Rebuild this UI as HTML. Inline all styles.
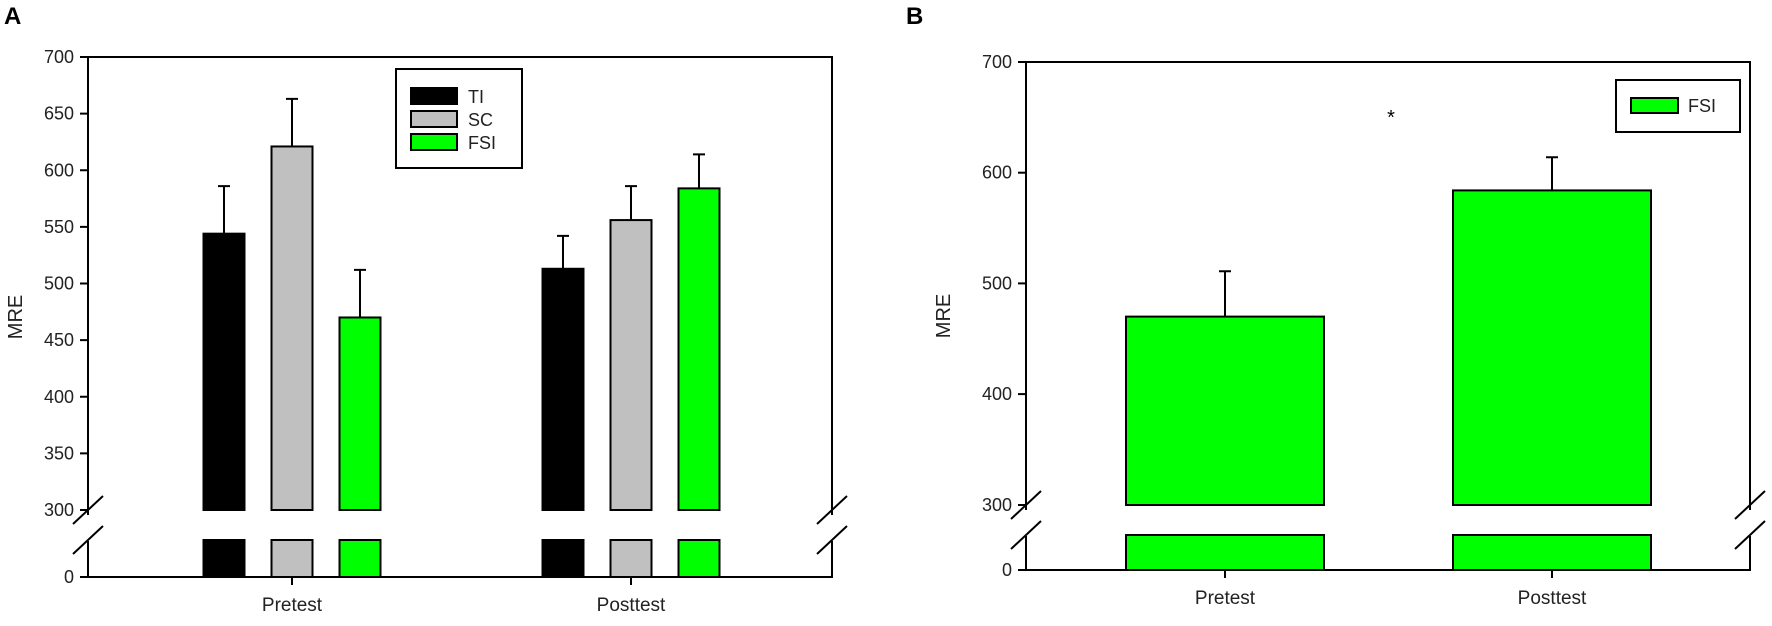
<!DOCTYPE html>
<html><head><meta charset="utf-8">
<style>
html,body{margin:0;padding:0;background:#fff;}
svg{display:block;font-family:"Liberation Sans",Arial,sans-serif;}
</style></head>
<body>
<svg id="chart" width="1772" height="626" viewBox="0 0 1772 626">
  <text x="4" y="24" font-size="24" font-weight="bold">A</text>
  <text x="906" y="24" font-size="24" font-weight="bold">B</text>
  <g id="panelA"></g>
  <g id="panelB"></g>
</svg>
<script>
const groupsA = ["Pretest", "Posttest"];
const seriesNamesA = ["TI", "SC", "FSI"];
const tiValues = [544, 513];
const scValues = [621, 556];
const fsiValuesA = [470, 584];
const tiErr = [586, 542];
const scErr = [663, 586];
const fsiErrA = [512, 614];
const yTicksA = [300, 350, 400, 450, 500, 550, 600, 650, 700];

const groupsB = ["Pretest", "Posttest"];
const fsiValuesB = [470, 584];
const fsiErrB = [511, 614];
const yTicksB = [300, 400, 500, 600, 700];

const NS = "http://www.w3.org/2000/svg";
function mk(parent, tag, attrs, text) {
  const e = document.createElementNS(NS, tag);
  for (const k in attrs) e.setAttribute(k, attrs[k]);
  if (text !== undefined) e.textContent = text;
  parent.appendChild(e);
  return e;
}
const colors = ["#000000", "#c0c0c0", "#00ff00"];

function drawPanel(g, cfg) {
  const {left, right, top, yTopVal, pxPer, breakY, lowTop, bottom, ticks, groups, series, errs, barW, centers, offsets, nameP} = cfg;
  const y = v => top + (yTopVal - v) * pxPer;
  // bars
  series.forEach((vals, si) => {
    vals.forEach((v, gi) => {
      const cx = centers[gi] + offsets[si];
      const x0 = cx - barW / 2;
      const r = mk(g, "rect", {x: x0, y: y(v), width: barW, height: breakY - y(v), fill: cfg.colors[si], stroke: "#000", "stroke-width": 2});
      
      
      const r2 = mk(g, "rect", {x: x0, y: lowTop, width: barW, height: bottom - lowTop, fill: cfg.colors[si], stroke: "#000", "stroke-width": 2});
      
      
      const e = errs[si][gi];
      const eb = mk(g, "path", {d: `M${cx},${y(v)}V${y(e)}M${cx - 6},${y(e)}H${cx + 6}`, stroke: "#000", "stroke-width": 2, fill: "none"});
      
      
    });
  });
  // frame
  const midBreak = (breakY + lowTop) / 2;
  const fr = mk(g, "path", {d: `M${left},${midBreak - 10}V${top}H${right}V${midBreak - 10}M${left},${midBreak + 16}V${bottom}H${right}V${midBreak + 16}`, stroke: "#000", "stroke-width": 2, fill: "none"});
  
  
  [left, right].forEach(x => {
    const b = mk(g, "path", {d: `M${x - 15},${midBreak - 1}L${x + 15},${midBreak - 29}M${x - 15},${midBreak + 29}L${x + 15},${midBreak + 1}`, stroke: "#000", "stroke-width": 2});
    
    
  });
  // y ticks
  ticks.forEach(t => {
    const ty = t === ticks[0] ? breakY : y(t);
    const tk = mk(g, "line", {x1: left - 8, x2: left, y1: ty, y2: ty, stroke: "#000", "stroke-width": 2});
    
    
    const lb = mk(g, "text", {x: left - 14, y: ty + 6, "font-size": 18, "text-anchor": "end", fill: "#222"}, String(t));
    
    
  });
  const zk = mk(g, "line", {x1: left - 8, x2: left, y1: bottom, y2: bottom, stroke: "#000", "stroke-width": 2});
  
  
  const z = mk(g, "text", {x: left - 14, y: bottom + 6, "font-size": 18, "text-anchor": "end", fill: "#222"}, "0");
  
  
  // x ticks
  groups.forEach((n, gi) => {
    const xt = mk(g, "line", {x1: centers[gi], x2: centers[gi], y1: bottom, y2: bottom + 8, stroke: "#000", "stroke-width": 2});
    
    
    const xl = mk(g, "text", {x: centers[gi], y: bottom + 34, "font-size": 19, "text-anchor": "middle", fill: "#222"}, n);
    
    
  });
  const yt = mk(g, "text", {x: 0, y: 0, "font-size": 20, "text-anchor": "middle", fill: "#222", transform: `translate(${cfg.yTitleX},${(top + bottom) / 2}) rotate(-90)`}, "MRE");
  
  
}

const gA = document.getElementById("panelA");
drawPanel(gA, {
  left: 88, right: 832, top: 57, yTopVal: 700, pxPer: 1.1325, breakY: 510, lowTop: 540, bottom: 577,
  ticks: yTicksA, groups: groupsA, series: [tiValues, scValues, fsiValuesA], errs: [tiErr, scErr, fsiErrA],
  barW: 41, centers: [292, 631], offsets: [-68, 0, 68], nameP: ["ti", "sc", "fsi"], colors: colors, yTitleX: 22
});
// legend A
const legA = mk(gA, "g", {});


mk(legA, "rect", {x: 396, y: 69, width: 126, height: 99, fill: "#fff", stroke: "#000", "stroke-width": 2});
seriesNamesA.forEach((n, i) => {
  const ent = mk(legA, "g", {});
  
  
  mk(ent, "rect", {x: 411, y: 88 + i * 23, width: 46, height: 16, fill: colors[i], stroke: "#000", "stroke-width": 2});
  mk(ent, "text", {x: 468, y: 103 + i * 23, "font-size": 18, fill: "#222"}, n);
});

const gB = document.getElementById("panelB");
drawPanel(gB, {
  left: 1026, right: 1750, top: 62, yTopVal: 700, pxPer: 1.107, breakY: 505, lowTop: 535, bottom: 570,
  ticks: yTicksB, groups: groupsB, series: [fsiValuesB], errs: [fsiErrB],
  barW: 198, centers: [1225, 1552], offsets: [0], nameP: ["fsi"], colors: ["#00ff00"], yTitleX: 950
});
const legB = mk(gB, "g", {});


mk(legB, "rect", {x: 1616, y: 80, width: 124, height: 52, fill: "#fff", stroke: "#000", "stroke-width": 2});
mk(legB, "rect", {x: 1631, y: 98, width: 47, height: 15, fill: "#00ff00", stroke: "#000", "stroke-width": 2});
mk(legB, "text", {x: 1688, y: 112, "font-size": 18, fill: "#222"}, "FSI");
const ast = mk(gB, "text", {x: 1391, y: 124, "font-size": 20, "text-anchor": "middle", fill: "#000"}, "*");


</script>
</body></html>
